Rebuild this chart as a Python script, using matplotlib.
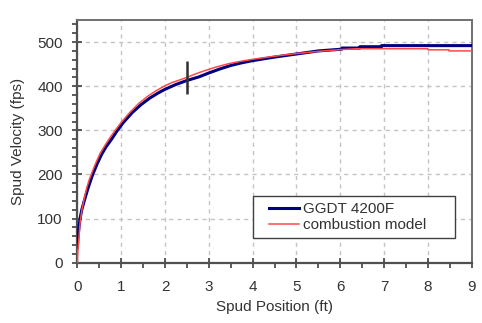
import matplotlib
matplotlib.use("Agg")
import matplotlib.pyplot as plt
from matplotlib.patches import Rectangle
from matplotlib.ticker import MultipleLocator

plt.rcParams["font.family"] = ["Liberation Sans", "DejaVu Sans"]

# measured test (GGDT 4200F)
test_x = [0, 0.01, 0.03, 0.05, 0.07, 0.1, 0.15, 0.2, 0.25, 0.3, 0.35, 0.45,
          0.55, 0.65, 0.78, 0.9, 1.05, 1.25, 1.45, 1.65, 1.85, 2.0, 2.25,
          2.5, 2.77, 3.0, 3.25, 3.5, 3.75, 4.0, 4.5, 5.0, 5.5, 6.04, 6.04,
          6.45, 6.45, 6.94, 6.94, 9.0]
test_v = [35, 55, 75, 92, 105, 120, 138, 155, 171, 186, 200, 224,
          245, 262, 280, 298, 318, 340, 358, 373, 385, 393, 404,
          413, 421, 430, 439, 447, 453, 458, 466, 473, 480, 484, 486.5,
          486.5, 489.5, 489.5, 492, 492]

# combustion model
model_x = [0, 0.01, 0.03, 0.06, 0.1, 0.14, 0.18, 0.22, 0.27, 0.33, 0.42,
           0.52, 0.63, 0.74, 0.87, 1.0, 1.2, 1.4, 1.6, 1.8, 2.0, 2.15, 2.3,
           2.5, 2.7, 2.9, 3.15, 3.45, 3.7, 4.0, 4.5, 5.0, 5.5, 6.0, 6.4,
           8.0, 8.0, 8.48, 8.48, 9.0]
model_v = [0, 25, 50, 90, 118, 138, 156, 172, 188, 204, 226,
           248, 266, 283, 301, 318, 341, 361, 377, 390, 401, 408, 413,
           420, 428, 435, 443, 451, 456, 461, 468, 474, 479, 483, 485,
           485, 482.5, 482.5, 480, 480]

marker_x = 2.5
marker_v = [383, 457]

fig = plt.figure(figsize=(4.82, 3.23), dpi=100)
ax = fig.add_axes([0.1606, 0.1867, 0.818, 0.7513])

ax.plot(test_x, test_v, color="#000080", lw=2.2, label="GGDT 4200F", zorder=3)
ax.plot(model_x, model_v, color="#ff4848", lw=1.1, label="combustion model", zorder=4)
ax.vlines(marker_x, marker_v[0], marker_v[1], color="#303030", lw=1.8, zorder=5)

ax.set_xlim(0, 9)
ax.set_ylim(0, 550)
ax.xaxis.set_major_locator(MultipleLocator(1))
ax.xaxis.set_minor_locator(MultipleLocator(0.5))
ax.yaxis.set_major_locator(MultipleLocator(100))
ax.yaxis.set_minor_locator(MultipleLocator(20))

ax.grid(True, which="major", color="#c4c4c4", linestyle=(0, (3, 3)), lw=1)
ax.tick_params(which="major", direction="inout", length=7, width=1.2,
               color="#404040", labelsize=11, labelcolor="#333333", pad=9)
ax.tick_params(which="minor", direction="out", length=3.5, width=1.2, color="#404040")
ax.tick_params(axis="y", which="major", pad=7)

for side in ["left", "bottom"]:
    ax.spines[side].set_color("#505050")
    ax.spines[side].set_linewidth(1.6)
for side in ["top", "right"]:
    ax.spines[side].set_color("#707070")
    ax.spines[side].set_linewidth(1.4)

ax.set_xlabel("Spud Position (ft)", fontsize=11, color="#333333", labelpad=4)
ax.set_ylabel("Spud Velocity (fps)", fontsize=11, color="#333333", labelpad=9)

# legend box drawn separately so the entries can sit inset on the right
box = Rectangle((0.445, 0.1005), 0.513, 0.1755, transform=ax.transAxes,
                facecolor="white", edgecolor="#404040", lw=1.0, zorder=6)
ax.add_patch(box)
leg = ax.legend(loc="center left", bbox_to_anchor=(0.485, 0.188), fontsize=11,
                frameon=False, handlelength=2.0, handletextpad=0.25,
                borderpad=0, labelspacing=0.15, borderaxespad=0)
leg.set_zorder(7)
for t in leg.get_texts():
    t.set_color("#333333")

fig.savefig("out.png", dpi=100)
